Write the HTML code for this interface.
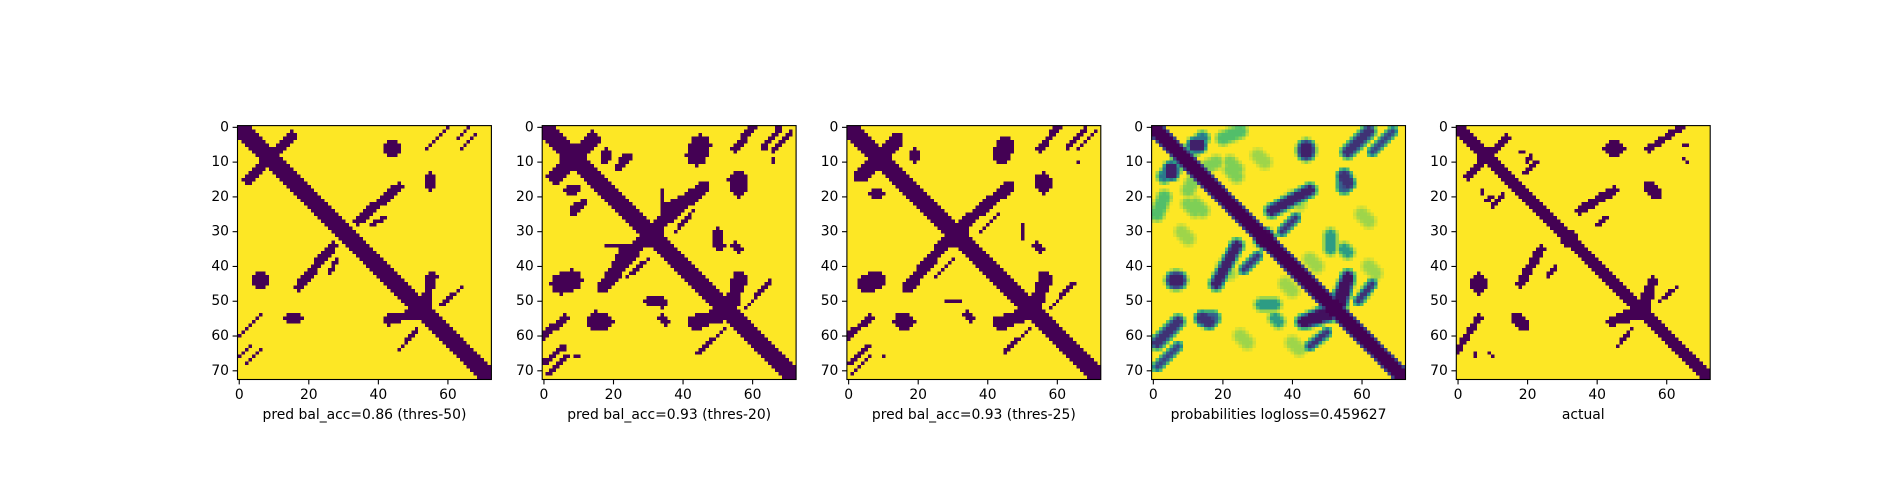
<!DOCTYPE html>
<html><head><meta charset="utf-8">
<style>
html,body{margin:0;padding:0;background:#fff;}
#fig{position:relative;width:1900px;height:500px;overflow:hidden;background:#fff;font-family:"DejaVu Sans","Liberation Sans",sans-serif;}
canvas{position:absolute;image-rendering:pixelated;image-rendering:crisp-edges;}
svg{position:absolute;left:0;top:0;}
</style></head>
<body>
<div id="fig">
<svg id="ov" width="1900" height="500"></svg>
</div>
<script>
// ---- data ----
const panelTitles=["pred bal_acc=0.86 (thres-50)","pred bal_acc=0.93 (thres-20)","pred bal_acc=0.93 (thres-25)","probabilities logloss=0.459627","actual"];
const rowTicks=[0,10,20,30,40,50,60,70];
const colTicks=[0,20,40,60];
const matrixSize=73;
// features: [r0,c0,r1,c1,halfWidth,(amplitude)] mirrored across diagonal
const featThres50=[
[0,0,72,72,2.2],[2,15,15,3,1.4],[8,8,8,8,2.7],[6,44,6,44,2.8],
[27,34,17,46,1.4],[28,38,26,42,0.5],[31,31,31,31,2.8],[14,55,17,55,0.6],
[52,52,52,52,2.6],[43,56,51,53,1.2],[55,43,54,52,1.2],[51,59,46,64,0.5],[58,51,64,46,0.5],
[0,60,6,54,0.6],[0,66,3,63,0.6],[64,6,68,2,0.5],[55,14,55,17,1.0]
];
const featThres20=[
[0,0,72,72,2.6],[8,8,8,8,3.2],[3,14,6,11,2],[14,4,11,7,2],[17.5,9,17.5,9,1.3],[23,8,22,11,0.8],
[7,18,9,18,1.2],[12,21,8,25,0.8],[5,45,8,44,3],[0,60,6,55,1.1],[0,68,6,63,0.8],[9,66,9,66,0.5],
[15,56,17,56,2.3],[28,33,17,46,1.9],[18,34,25,34,0.6],[23,36,20,42,1.5],[30,38,24,43,0.6],
[32,32,32,32,3.1],[30,50,34,50,1],[34,55,35,56,1.4],[50,30,51,34,1.0],[55,15,56,18,2],
[52,52,52,52,3.2],[44,57,51,53,1.8],[56,43,54,52,1.8],[50,60,44,65,0.6],[58,52,65,45,0.6],
[66,7,71,1,0.7],[66,10,66,10,0.5]
];
const featThres25=[
[0,0,72,72,2.4],[8,8,8,8,3],[3,14,6,11,1.6],[14,4,11,7,1.6],[18,9,18,9,0.9],
[7,19,9,19,1.0],[5,45,8,44,2.6],[0,60,6,55,1.0],[0,68,6,63,0.7],[10,66,10,66,0.5],
[15,56,17,56,2.0],[28,33,17,46,1.7],[30,38,25,43,0.6],[32,32,32,32,2.9],[30,50,32,50,0.8],
[34,54,35,55,1.0],[50,28,50,32,0.6],[55,15,56,17,1.6],[52,52,52,52,3],[44,57,51,53,1.6],
[56,43,54,52,1.6],[50,60,45,64,0.6],[58,52,65,45,0.6],[66,6,71,1,0.6]
];
const featProb=[
[0,0,72,72,2.0,1],[8,8,8,8,2,0.95],[5,12,5,13,1.5,0.9],[14,3,12,6,1.1,0.6],[6,44,7,44,1.8,0.9],
[1,62,7,56,1.1,0.85],[1,69,7,63,0.5,0.8],[14,55,16,56,1.3,0.85],[24,34,18,45,1.1,0.9],
[30,37,26,41,0.5,0.85],[32,32,32,32,2.2,1],[31,51,32,51,1.0,0.45],[35,55,36,56,1.0,0.45],
[52,52,52,52,2.4,1],[43,56,50,53,1.1,0.95],[56,44,54,51,1.1,0.95],[50,59,45,63,0.5,0.85],
[55,14,55,17,1.3,0.7],[51,31,51,35,1.0,0.45],[10,18,12,14,1.2,0.2],[20,3,25,1,1.2,0.3],
[12,22,14,24,1.2,0.2],[22,10,24,12,1.2,0.2],[40,20,42,22,1.2,0.15],[8,30,10,32,1.2,0.15],
[62,40,64,42,1.2,0.15],[38,45,40,47,1.2,0.15],[25,60,27,62,1.2,0.15]
];
const featActual=[
[0,0,72,72,2.0],[3,14,14,3,1.3],[8,8,8,8,2.6],[13,19,10,23,0.7],[7,19,7,19,0.8],
[6,44,6,46,2],[10,45.5,17,45.5,0.4],[24,35,18,45,1.3],[28,40,26,43,0.6],[32,32,32,32,2.3],
[17,55,19,57,1.5],[52,52,52,52,2.5],[44,56,52,52,1.3],[56,44,54,52,1.3],[50,58,46,63,0.5],
[0,64,6,55,1.1],[5,65,5,66,0.7],[9,65,10,66,0.7],[18,7,18,7,0.6],[21,8,20,10,0.8],
[65,5,65,5,0.7],[66,10,66,10,0.7]
];
const panelFeatures=[featThres50,featThres20,featThres25,featProb,featActual];
const panelModes=["bin","bin","bin","prob","bin"];

// ---- layout ----
const L0=237.5, STEP=304.7, TOP=125.6, S=253.9, N=matrixSize, CELL=S/N;
const fig=document.getElementById('fig');
const ov=document.getElementById('ov');
const NS="http://www.w3.org/2000/svg";

function segDist(r,c,f){
  const ax=f[0],ay=f[1],bx=f[2],by=f[3];
  const dx=bx-ax,dy=by-ay,len=dx*dx+dy*dy;
  let t=len?((r-ax)*dx+(c-ay)*dy)/len:0; t=Math.max(0,Math.min(1,t));
  const px=ax+t*dx-r,py=ay+t*dy-c; return Math.sqrt(px*px+py*py);
}
const vstops=[[0,[68,1,84]],[0.25,[59,82,139]],[0.5,[33,145,140]],[0.75,[94,201,98]],[1,[253,231,37]]];
function viridis(v){
  v=Math.max(0,Math.min(1,v));
  for(let i=0;i<vstops.length-1;i++){const a=vstops[i],b=vstops[i+1];
    if(v<=b[0]){const t=(v-a[0])/(b[0]-a[0]);return a[1].map((x,k)=>Math.round(x+(b[1][k]-x)*t));}}
  return vstops[4][1];
}
function contact(r,c,feats,mode){
  let best=0;
  for(const f of feats){
    const d=Math.min(segDist(r,c,f),segDist(c,r,f));
    const amp=f.length>5?f[5]:1;
    let g;
    if(mode==="bin"){g=d<=f[4]?1:0;}
    else{const spread=(f[0]===0&&f[3]===72)?0.6:1.5;g=d<=f[4]?1:Math.max(0,1-(d-f[4])/spread);}
    best=Math.max(best,amp*g);
  }
  return best;
}
function line(x1,y1,x2,y2,name){
  const l=document.createElementNS(NS,'line');
  l.setAttribute('x1',x1);l.setAttribute('y1',y1);l.setAttribute('x2',x2);l.setAttribute('y2',y2);
  l.setAttribute('stroke','#000');l.setAttribute('stroke-width','1.1');
  
  
  ov.appendChild(l);
}
function text(x,y,s,anchor,name){
  const t=document.createElementNS(NS,'text');
  t.setAttribute('x',x);t.setAttribute('y',y);t.setAttribute('text-anchor',anchor);
  t.setAttribute('dominant-baseline','central');t.setAttribute('font-size','13.9');
  t.setAttribute('fill','#000');t.textContent=s;
  
  
  ov.appendChild(t);
}
panelFeatures.forEach((feats,p)=>{
  const left=L0+p*STEP;
  const cv=document.createElement('canvas');
  cv.width=N;cv.height=N;
  cv.style.left=left+'px';cv.style.top=TOP+'px';cv.style.width=S+'px';cv.style.height=S+'px';
  
  
  fig.insertBefore(cv,ov);
  const ctx=cv.getContext('2d');const img=ctx.createImageData(N,N);
  for(let r=0;r<N;r++)for(let c=0;c<N;c++){
    const v=contact(r,c,feats,panelModes[p]);
    const col=panelModes[p]==="bin"?(v>0?[68,1,84]:[253,231,37]):viridis(1-v);
    const i=(r*N+c)*4;img.data[i]=col[0];img.data[i+1]=col[1];img.data[i+2]=col[2];img.data[i+3]=255;
  }
  ctx.putImageData(img,0,0);
  const fr=document.createElementNS(NS,'rect');
  fr.setAttribute('x',left);fr.setAttribute('y',TOP);fr.setAttribute('width',S);fr.setAttribute('height',S);
  fr.setAttribute('fill','none');fr.setAttribute('stroke','#000');fr.setAttribute('stroke-width','1.1');
  
  
  ov.appendChild(fr);
  rowTicks.forEach(v=>{const y=TOP+(v+0.5)*CELL;line(left-4.9,y,left,y,'y-tick');text(left-8.5,y,String(v),'end','y-tick-label');});
  colTicks.forEach(v=>{const x=left+(v+0.5)*CELL;line(x,TOP+S,x,TOP+S+4.9,'x-tick');text(x,TOP+S+15.5,String(v),'middle','x-tick-label');});
  text(left+S/2,415,panelTitles[p],'middle','x-axis-title');
});
</script>
</body></html>
